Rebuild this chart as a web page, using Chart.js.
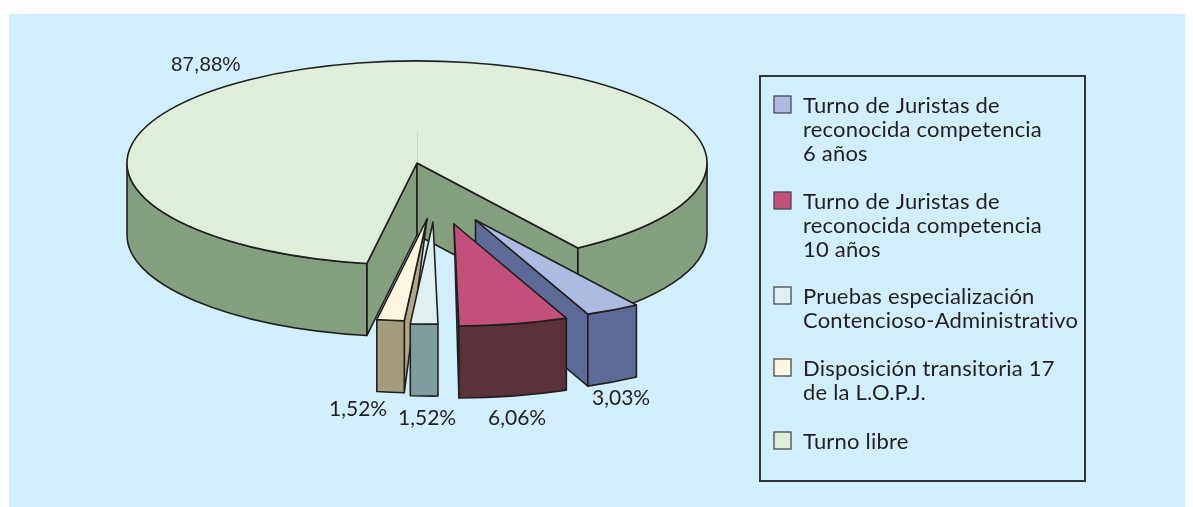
<!DOCTYPE html>
<html>
<head>
<meta charset="utf-8">
<title>Turnos</title>
<script src="https://cdn.jsdelivr.net/npm/chart.js@4/dist/chart.umd.js"></script>
<style>
html, body { margin: 0; padding: 0; background: #fff; }
#wrap { width: 1193px; height: 507px; }
</style>
</head>
<body>
<div id="wrap"><canvas id="c" width="1193" height="507"></canvas></div>
<script>
// data
let categories = [
    ['Turno de Juristas de', 'reconocida competencia', '6 años'],
    ['Turno de Juristas de', 'reconocida competencia', '10 años'],
    ['Pruebas especialización', 'Contencioso-Administrativo'],
    ['Disposición transitoria 17', 'de la L.O.P.J.'],
    ['Turno libre']
];
let values = [3.03, 6.06, 1.52, 1.52, 87.88];

// styles
let topColors = ['#aebbe0', '#c34f7b', '#e0f0f0', '#fdf6e0', '#dfeeda'];
let wallColors = ['#5d6a95', '#593339', '#7f9d9c', '#a39b7d', '#839f80'];
let startWall = ['#5d6a95', '#593339', '#7f9d9c', '#b0a888', '#839f80'];
let endWall = ['#5d6a95', '#0b7a5e', '#7f9d9c', '#b0a888', '#839f80'];
let shifts = [[58.5, 57], [37, 61], [16, 59], [10, 56], [0, 0]];
let drawOrder = [4, 0, 1, 3, 2];
let labelPos = [[592, 405], [488, 425], [398, 425], [329, 416], [171, 71]];
let legendRows = [96, 192, 287, 359, 432];

const SQUASH = 0.352;
const DEPTH = 72;
const INK = '#231f20';

function pt(a, r, x, y) {
    return [x + Math.cos(a) * r, y + Math.sin(a) * r * SQUASH];
}

function sideWall(ctx, a, r, x, y, color) {
    let p = pt(a, r, x, y);
    ctx.beginPath();
    ctx.moveTo(x, y);
    ctx.lineTo(p[0], p[1]);
    ctx.lineTo(p[0], p[1] + DEPTH);
    // nearly edge on walls only show as a sliver
    if (Math.abs(Math.cos(a)) > 0.1) ctx.lineTo(x, y + DEPTH);
    ctx.closePath();
    ctx.fillStyle = color;
    ctx.fill();
    ctx.stroke();
}

function outerWall(ctx, a0, a1, r, x, y, color) {
    // only the front half of the rim shows
    [[0, Math.PI], [Math.PI * 2, Math.PI * 3]].forEach(function (f) {
        let s = Math.max(a0, f[0]), e = Math.min(a1, f[1]);
        if (s >= e) return;
        ctx.beginPath();
        ctx.ellipse(x, y, r, r * SQUASH, 0, s, e);
        ctx.ellipse(x, y + DEPTH, r, r * SQUASH, 0, e, s, true);
        ctx.closePath();
        ctx.fillStyle = color;
        ctx.fill();
        ctx.stroke();
    });
}

let pie3d = {
    id: 'pie3d',
    beforeDraw(chart) {
        let ctx = chart.ctx;
        ctx.save();
        ctx.fillStyle = '#d2eefb';
        ctx.fillRect(9, 14, 1176, 493);
        ctx.restore();
    },
    beforeDatasetsDraw(chart) {
        let ctx = chart.ctx;
        let arcs = chart.getDatasetMeta(0).data;
        drawOrder.forEach(function (i) {
            let arc = arcs[i];
            let x = arc.x + shifts[i][0];
            let y = arc.y + shifts[i][1];
            let r = arc.outerRadius;
            let a0 = arc.startAngle, a1 = arc.endAngle;
            ctx.save();
            ctx.strokeStyle = INK;
            ctx.lineWidth = 1.6;
            ctx.lineJoin = 'round';
            if (Math.cos(a0) < 0) sideWall(ctx, a0, r, x, y, startWall[i]);
            if (Math.cos(a1) > 0) sideWall(ctx, a1, r, x, y, endWall[i]);
            outerWall(ctx, a0, a1, r, x, y, wallColors[i]);

            // top face comes from the library's own arc, flattened
            ctx.save();
            ctx.translate(shifts[i][0], y);
            ctx.scale(1, SQUASH);
            ctx.translate(0, -arc.y);
            arc.draw(ctx);
            ctx.restore();

            ctx.beginPath();
            ctx.moveTo(x, y);
            ctx.ellipse(x, y, r, r * SQUASH, 0, a0, a1);
            ctx.closePath();
            ctx.stroke();
            ctx.restore();
        });
        // faint seam on the big slice
        ctx.save();
        ctx.strokeStyle = '#c6d6c4';
        ctx.lineWidth = 1;
        ctx.beginPath();
        ctx.moveTo(arcs[4].x + 0.5, arcs[4].y - 32);
        ctx.lineTo(arcs[4].x + 0.5, arcs[4].y - 1);
        ctx.stroke();
        ctx.restore();
        return false;
    },
    afterDraw(chart) {
        let ctx = chart.ctx;
        ctx.save();
        ctx.fillStyle = INK;
        ctx.textBaseline = 'alphabetic';
        ctx.textAlign = 'left';

        values.forEach(function (v, i) {
            ctx.font = i == 4 ? '20.5px "Liberation Sans"' : '21px Lato';
            ctx.fillText(v.toFixed(2).replace('.', ',') + '%', labelPos[i][0], labelPos[i][1]);
        });

        // legend box
        ctx.strokeStyle = '#333';
        ctx.lineWidth = 2;
        ctx.strokeRect(760, 76, 325, 405);
        ctx.font = '22px Lato';
        ctx.letterSpacing = '0.2px';
        categories.forEach(function (lines, i) {
            let top = legendRows[i];
            ctx.fillStyle = topColors[i];
            ctx.strokeStyle = '#4a4a52';
            ctx.lineWidth = 1.3;
            ctx.fillRect(774, top, 17, 17);
            ctx.strokeRect(774, top, 17, 17);
            ctx.fillStyle = INK;
            lines.forEach(function (t, n) {
                ctx.fillText(t, 803, top + 17 + n * 24);
            });
        });
        ctx.restore();
    }
};

new Chart(document.getElementById('c'), {
    type: 'pie',
    data: {
        labels: categories.map(function (l) { return l.join(' '); }),
        datasets: [{
            data: values,
            backgroundColor: topColors,
            borderWidth: 0
        }]
    },
    options: {
        responsive: false,
        animation: false,
        rotation: 146.3,
        radius: 290,
        layout: { padding: { right: 359, bottom: 181 } },
        plugins: {
            legend: { display: false },
            tooltip: { enabled: false }
        }
    },
    plugins: [pie3d]
});
</script>
</body>
</html>
